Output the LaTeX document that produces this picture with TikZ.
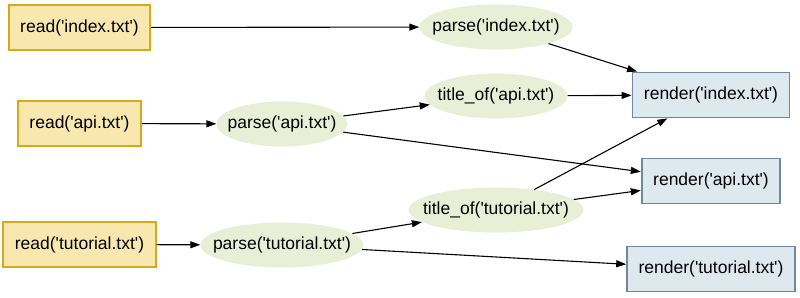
\documentclass[tikz,border=0pt]{standalone}
\usepackage{fontspec}
\setmainfont{Liberation Sans}[Ligatures=TeXOff]
\usetikzlibrary{shapes.geometric, arrows.meta}
\definecolor{readfill}{RGB}{248, 231, 175}
\definecolor{readdraw}{RGB}{214, 168, 26}
\definecolor{procfill}{RGB}{233, 239, 214}
\definecolor{renderfill}{RGB}{221, 233, 238}
\definecolor{renderdraw}{RGB}{111, 135, 160}
\tikzset{
  >=Triangle,
  deparrow/.style={-{Triangle[length=10pt, width=7pt]}, line width=1.1pt, black}
}

\begin{document}
\begin{tikzpicture}[
    x=1pt, y=-1pt,
    readbox/.style={rectangle, draw=readdraw, fill=readfill, line width=1.8pt, inner xsep=11.5pt, minimum height=45pt, font=\fontsize{17.5}{20}\selectfont},
    proc/.style={ellipse, fill=procfill, inner xsep=-30pt, inner ysep=0pt, minimum height=45pt, font=\fontsize{17.5}{20}\selectfont},
    renderbox/.style={rectangle, draw=renderdraw, fill=renderfill, line width=1.8pt, inner xsep=11.5pt, minimum height=45pt, font=\fontsize{17.5}{20}\selectfont}
]
    \useasboundingbox (0,0) rectangle (800,297);

    % Nodes
    \node[readbox] (rd_index) at (79.5, 27.5) {read('index.txt')};
    \node[readbox] (rd_api) at (79.5, 123.5) {read('api.txt')};
    \node[readbox] (rd_tut) at (79.5, 244.5) {read('tutorial.txt')};

    \node[proc, minimum width=153pt] (ps_index) at (496, 27) {parse('index.txt')};
    \node[proc, minimum width=131pt] (ps_api) at (282, 124) {parse('api.txt')};
    \node[proc, minimum width=163pt] (ps_tut) at (282, 245) {parse('tutorial.txt')};
    \node[proc, minimum width=143pt] (tt_api) at (496, 96) {title\_of('api.txt')};
    \node[proc, minimum width=175pt] (tt_tut) at (496, 210) {title\_of('tutorial.txt')};

    \node[renderbox] (rn_index) at (711, 95) {render('index.txt')};
    \node[renderbox] (rn_api) at (711, 181) {render('api.txt')};
    \node[renderbox] (rn_tut) at (711, 269) {render('tutorial.txt')};

    % Arrows
    \draw[deparrow] (rd_index) -- (ps_index);
    \draw[deparrow] (rd_api) -- (ps_api);
    \draw[deparrow] (rd_tut) -- (ps_tut);
    \draw[deparrow] (ps_index) -- (rn_index);
    \draw[deparrow] (ps_api) -- (tt_api);
    \draw[deparrow] (ps_api) -- (rn_api);
    \draw[deparrow] (tt_api) -- (rn_index);
    \draw[deparrow] (ps_tut) -- (tt_tut);
    \draw[deparrow] (ps_tut) -- (rn_tut);
    \draw[deparrow] (tt_tut) -- (rn_index);
    \draw[deparrow] (tt_tut) -- (rn_api);
\end{tikzpicture}
\end{document}
